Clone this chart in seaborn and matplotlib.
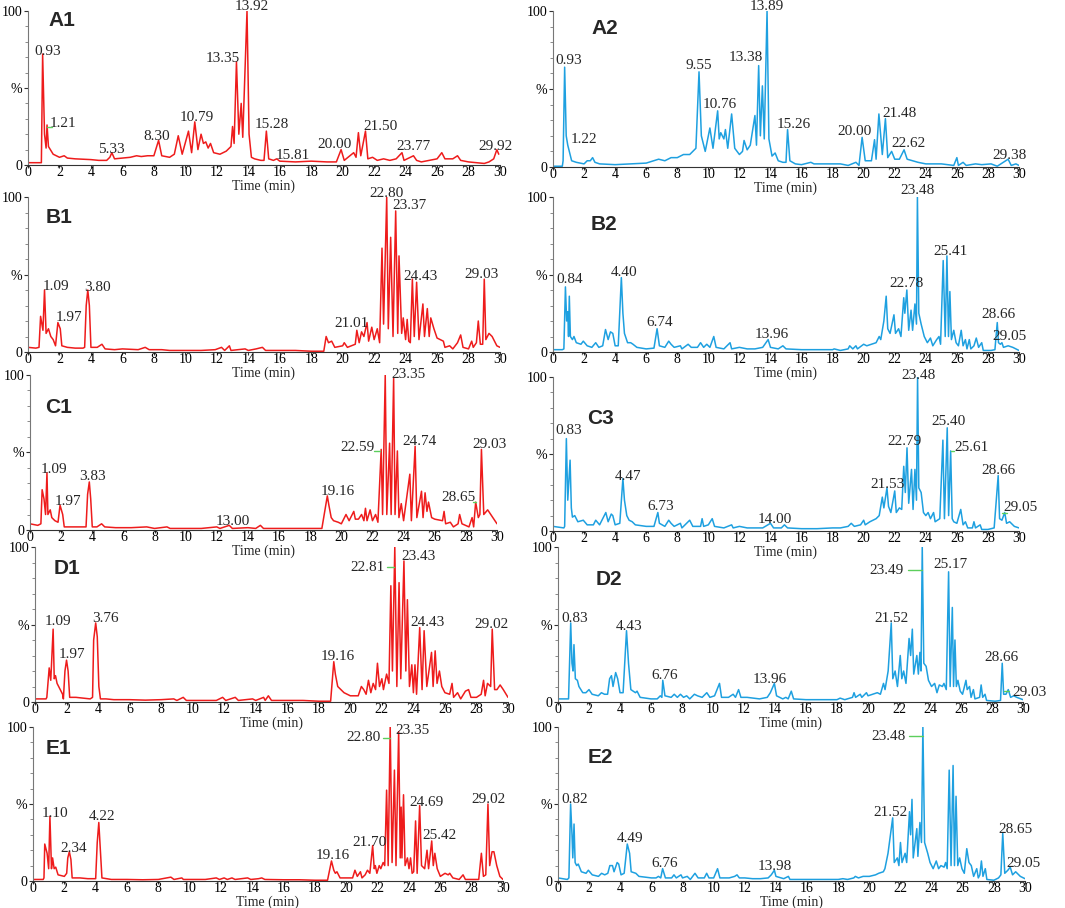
import numpy as np
import pandas as pd
import matplotlib
matplotlib.use("Agg")
import matplotlib.pyplot as plt
import seaborn as sns

# ---- data: retention time (min) and relative intensity (%) ----
a1_t = [0, 0.85, 0.93, 1.05, 1.15, 1.21, 1.3, 1.6, 2.0, 2.3, 2.5, 3.0, 4.0, 4.5, 5.0, 5.2, 5.33, 5.5, 6.0, 6.5,
        6.9, 7.2, 7.6, 8.0, 8.3, 8.5, 9.0, 9.3, 9.55, 9.8, 10.2, 10.4, 10.6, 10.8, 11.0, 11.15, 11.3, 11.45, 11.6, 11.8,
        12.2, 12.6, 12.9, 13.0, 13.1, 13.25, 13.4, 13.55, 13.65, 13.92, 14.05, 14.2, 14.4, 14.8, 15.0, 15.15, 15.3, 15.6,
        15.81, 16.0, 17.0, 18.0, 19.0, 19.6, 19.9, 20.1, 20.7, 20.85, 21.0, 21.15, 21.45, 21.6, 21.9, 22.2, 22.6, 23.0,
        23.4, 23.77, 23.9, 24.5, 24.7, 25.0, 25.5, 26.0, 26.3, 26.5, 27.0, 27.3, 27.5, 28.0, 28.5, 29.0, 29.3, 29.6,
        29.8, 29.92]
a1_i = [1.5, 1.5, 72, 20, 11, 26, 12, 7, 5, 6, 4.5, 4, 3.5, 3, 3, 5, 8, 4, 4.5, 5,
        6, 5.5, 6, 6, 16, 6, 5, 7, 19, 7, 22, 8, 28, 10, 20, 14, 15, 11, 14, 8,
        7, 9, 12, 25, 14, 67, 20, 40, 18, 100, 20, 5, 4, 3, 3, 22, 4, 3,
        4, 2.5, 2, 2.5, 2, 2, 10, 3, 8, 5, 21, 6, 22, 4, 5, 3, 4, 3,
        4, 8, 3, 6, 3, 2, 3, 4, 8, 4, 4, 6, 3, 2, 1.5, 1, 2, 4,
        10, 7]

a2_t = [0, 0.6, 0.65, 0.75, 0.85, 0.95, 1.05, 1.2, 1.5, 2.0, 2.2, 2.4, 2.55, 2.7, 3.0, 4.0, 5.0, 6.0, 6.8, 7.2,
        7.6, 8.0, 8.4, 8.8, 9.0, 9.2, 9.4, 9.55, 9.8, 10.1, 10.3, 10.6, 10.7, 10.8, 11.0, 11.1, 11.25, 11.5, 11.7, 12.0,
        12.2, 12.3, 12.5, 12.7, 13.0, 13.1, 13.24, 13.35, 13.48, 13.6, 13.78, 13.9, 14.1, 14.3, 14.5, 14.8, 15.0, 15.1,
        15.25, 15.6, 16.0, 16.6, 16.8, 17.5, 18.0, 18.5, 19.0, 19.5, 19.7, 19.9, 20.1, 20.5, 20.7, 20.8, 20.98, 21.2,
        21.4, 21.55, 21.8, 22.0, 22.3, 22.6, 22.8, 23.5, 24.0, 25.0, 25.8, 26.0, 26.1, 26.4, 26.6, 27.2, 27.6, 28.2,
        28.6, 29.3, 29.5, 29.8, 30]
a2_i = [0.5, 0.5, 4, 64, 20, 14, 10, 4, 3, 2, 4, 4, 6, 3, 2, 1.5, 2, 2.5, 5, 4,
        6, 6, 8, 8, 10, 12, 61, 20, 10, 25, 12, 36, 18, 22, 18, 24, 12, 34, 12, 8,
        10, 17, 11, 14, 33, 14, 65, 20, 52, 18, 100, 18, 7, 9, 4, 3, 3, 24,
        4, 2, 1.5, 3, 2, 2, 2, 2, 1, 3, 1, 19, 4, 4, 17.5, 5, 34, 8,
        31, 6, 10, 5, 5, 11, 5, 3, 2, 2, 1, 6, 1, 3, 1, 2, 1.5, 2,
        0.5, 5, 1, 2, 1]

b1_t = [0, 0.5, 0.7, 0.8, 0.95, 1.05, 1.15, 1.3, 1.45, 1.6, 1.75, 1.9, 2.05, 2.15, 2.5, 3.0, 3.5, 3.6, 3.7, 3.8,
        3.9, 4.0, 4.4, 4.7, 4.9, 5.5, 6.0, 7.0, 7.45, 7.7, 8.5, 9.0, 10.0, 11.0, 11.9, 12.3, 12.5, 12.8, 12.9, 13.8,
        14.0, 14.5, 14.9, 15.1, 16.0, 17.0, 18.0, 18.8, 18.95, 19.1, 19.3, 19.5, 20.0, 20.1, 20.3, 20.8, 20.9, 21.05,
        21.2, 21.35, 21.55, 21.65, 21.85, 22.0, 22.2, 22.35, 22.5, 22.6, 22.8, 22.9, 23.05, 23.2, 23.37, 23.5, 23.58,
        23.75, 23.85, 24.0, 24.1, 24.2, 24.3, 24.43, 24.55, 24.7, 24.85, 25.1, 25.2, 25.38, 25.5, 25.6, 25.8, 26.0,
        26.4, 26.5, 26.8, 27.0, 27.3, 27.5, 27.65, 28.0, 28.2, 28.3, 28.5, 28.62, 28.75, 28.9, 29.0, 29.1, 29.3, 29.5,
        29.8, 30]
b1_i = [3, 2.5, 3, 23, 14, 40, 12, 15, 10, 8, 4, 19, 15, 4, 3, 2.5, 2.5, 3, 30, 40,
        30, 3, 3, 5, 2, 1.5, 2, 1.5, 3, 1.5, 1.5, 1, 1, 1, 1.5, 3, 1, 4, 1, 2,
        1, 2, 3, 1, 1, 1, 0.5, 0.5, 10, 6, 7, 3, 4, 6, 3, 5, 14, 6,
        13, 10, 19, 7, 16, 8, 15, 6, 67, 18, 100, 15, 74, 10, 91, 12, 62,
        12, 22, 8, 21, 7, 6, 47, 10, 45, 8, 31, 10, 28, 10, 22, 15, 9,
        7, 3, 4, 2, 6, 11, 3, 2, 7, 3, 6, 20, 5, 5, 47, 8, 12, 10,
        4, 3]

b2_t = [0, 0.6, 0.7, 0.75, 0.8, 0.88, 0.95, 1.0, 1.05, 1.12, 1.25, 1.35, 1.5, 1.8, 1.95, 2.2, 2.5, 2.75, 2.95, 3.2,
        3.38, 3.55, 3.7, 3.85, 4.0, 4.2, 4.4, 4.5, 4.6, 4.8, 5.0, 5.15, 5.4, 6.0, 6.5, 6.7, 6.85, 7.2, 7.45, 7.6,
        7.8, 8.2, 8.3, 8.7, 8.9, 9.3, 9.5, 9.7, 9.9, 10.1, 10.35, 10.5, 11.0, 11.4, 11.5, 12.0, 12.5, 13.0, 13.5, 13.85,
        14.0, 14.5, 14.8, 15.0, 16.0, 17.0, 18.0, 18.1, 18.5, 19.0, 19.1, 19.3, 19.5, 19.6, 20.0, 20.2, 20.5, 20.8,
        21.0, 21.1, 21.3, 21.45, 21.55, 21.7, 21.95, 22.05, 22.25, 22.4, 22.58, 22.65, 22.78, 22.9, 23.05, 23.15, 23.3,
        23.4, 23.46, 23.55, 23.7, 23.9, 24.1, 24.3, 24.45, 24.7, 24.85, 24.95, 25.12, 25.25, 25.36, 25.46, 25.55, 25.65,
        25.8, 25.95, 26.1, 26.28, 26.4, 26.55, 26.65, 26.8, 26.9, 27.1, 27.25, 27.4, 27.6, 27.7, 28.2, 28.45, 28.6,
        28.68, 28.8, 28.9, 29.0, 29.3, 29.6, 30]
b2_i = [1.5, 1.5, 2, 22, 42, 20, 26, 10, 36, 10, 8, 10, 6, 5, 7, 4, 3, 6, 3, 4,
        14.5, 8, 13, 12, 4, 4, 48, 25, 12, 6, 6, 5, 3, 2, 2.5, 15, 4, 3, 7, 5,
        3, 4, 2, 5, 3, 3, 6, 3, 5, 3, 10, 3, 2, 6, 2, 3, 2, 2, 3, 8,
        3, 2, 4, 2, 1.5, 1.5, 1.5, 2, 1, 2, 4, 2, 4, 2, 5, 4, 5, 6,
        10, 8, 20, 36, 15, 12, 24, 12, 15, 10, 35, 25, 40, 14, 27, 14, 31,
        18, 100, 25, 18, 10, 6, 9, 4, 8, 10, 5, 59, 10, 62, 10, 39, 8,
        14, 6, 4, 14, 4, 8, 2, 8, 2, 4, 9, 3, 6, 1, 1, 1.5, 19,
        6, 5, 6, 3, 4, 3, 1]

c1_t = [0, 0.5, 0.7, 0.78, 0.9, 1.0, 1.09, 1.15, 1.3, 1.4, 1.6, 1.8, 1.93, 2.1, 2.2, 3.0, 3.6, 3.7, 3.81, 3.9,
        4.0, 4.3, 4.6, 4.8, 5.5, 6.5, 7.5, 8.0, 8.8, 9.0, 10.0, 11.0, 12.0, 12.2, 12.8, 13.0, 14.0, 14.5, 14.8, 15.0,
        16.0, 17.0, 18.0, 18.75, 19.1, 19.2, 19.35, 19.5, 19.8, 20.0, 20.3, 20.5, 20.8, 20.9, 21.1, 21.3, 21.45, 21.55,
        21.65, 21.85, 22.0, 22.2, 22.35, 22.56, 22.65, 22.82, 22.92, 23.1, 23.2, 23.36, 23.45, 23.6, 23.7, 23.85, 24.0,
        24.4, 24.5, 24.74, 24.85, 25.15, 25.25, 25.38, 25.5, 25.6, 25.8, 26.0, 26.5, 26.6, 26.7, 27.0, 27.2, 27.5,
        27.6, 27.75, 28.2, 28.4, 28.5, 28.63, 28.8, 28.9, 29.0, 29.15, 29.4, 29.6, 30]
c1_i = [4, 3, 4, 26, 20, 10, 37, 10, 13, 8, 6, 5, 16, 10, 2, 2, 2, 23, 31, 20,
        2, 2, 4, 2, 1.5, 1.5, 2, 1, 2, 1, 1, 1, 2, 1, 3, 1, 1.5, 1, 3, 1,
        1, 1, 1, 1, 22, 16, 8, 6, 5, 4, 10, 6, 12, 7, 7, 10, 6, 14,
        6, 13, 6, 10, 5, 52, 10, 100, 10, 56, 10, 98, 10, 51, 8, 17, 6,
        36, 6, 54, 8, 25, 8, 24, 12, 18, 8, 7, 6, 12, 4, 5, 2, 4,
        10, 4, 2, 8, 2, 18, 8, 10, 52, 10, 13, 10, 4]

c3_t = [0, 0.7, 0.75, 0.86, 0.95, 1.1, 1.18, 1.25, 1.4, 1.6, 1.95, 2.2, 2.6, 2.75, 3.0, 3.3, 3.4, 3.55, 3.75, 3.85,
        4.0, 4.3, 4.5, 4.6, 4.75, 4.9, 5.1, 5.3, 6.0, 6.5, 6.75, 6.85, 7.2, 7.45, 7.6, 7.8, 8.2, 8.3, 8.8, 9.0,
        9.5, 9.6, 9.7, 10.0, 10.25, 10.4, 11.0, 11.5, 11.6, 12.0, 12.5, 13.0, 13.5, 14.0, 14.2, 14.7, 14.9, 15.1,
        16.0, 17.0, 18.0, 18.5, 19.0, 19.2, 19.4, 19.8, 20.0, 20.1, 20.4, 20.8, 21.0, 21.2, 21.3, 21.5, 21.6, 21.75,
        22.0, 22.1, 22.3, 22.45, 22.58, 22.68, 22.79, 22.9, 23.08, 23.18, 23.3, 23.4, 23.47, 23.55, 23.7, 23.85, 24.0,
        24.15, 24.3, 24.5, 24.6, 24.9, 25.1, 25.2, 25.38, 25.47, 25.6, 25.7, 25.8, 26.0, 26.25, 26.4, 26.55, 26.7,
        27.0, 27.1, 27.2, 27.5, 27.6, 28.0, 28.4, 28.66, 28.75, 28.9, 29.08, 29.2, 29.4, 29.7, 30]
c3_i = [3, 2, 3, 60, 20, 46, 15, 9, 10, 6, 7, 4, 4, 7, 4, 10, 12, 6, 11, 10,
        4, 5, 34, 20, 10, 7, 6, 4, 3, 3, 12, 5, 3, 7, 5, 3, 5, 2, 7, 3,
        3, 8, 3, 4, 8, 3, 2, 4, 2, 3, 2, 2, 2, 5, 2, 2, 4, 2,
        1.5, 1.5, 2, 2, 3, 5, 3, 4, 7, 4, 6, 8, 10, 22, 15, 28, 16, 12,
        26, 12, 15, 14, 42, 25, 54, 18, 40, 14, 40, 20, 100, 28, 25, 12, 10,
        12, 8, 12, 6, 8, 59, 8, 67, 10, 52, 8, 6, 5, 14, 4, 6, 2,
        2, 6, 2, 4, 1, 1, 2, 36, 8, 7, 12, 5, 6, 3, 2]

d1_t = [0, 0.7, 0.75, 0.9, 1.0, 1.15, 1.22, 1.3, 1.4, 1.6, 1.75, 1.8, 1.9, 2.0, 2.1, 2.2, 2.6, 3.5, 3.65, 3.72,
        3.85, 3.95, 4.05, 4.15, 4.5, 5.0, 6.0, 7.0, 8.0, 8.8, 9.0, 9.4, 9.6, 10.5, 11.5, 11.9, 12.1, 12.7, 12.9, 13.8,
        14.0, 14.5, 14.6, 14.8, 15.0, 16.0, 17.0, 18.0, 18.75, 18.95, 19.05, 19.2, 19.4, 19.6, 19.8, 20.0, 20.5, 20.7,
        20.85, 21.0, 21.15, 21.3, 21.45, 21.6, 21.72, 21.85, 22.0, 22.1, 22.3, 22.45, 22.57, 22.67, 22.82, 22.95, 23.09,
        23.2, 23.4, 23.52, 23.62, 23.75, 23.9, 24.0, 24.1, 24.2, 24.4, 24.55, 24.68, 24.85, 25.15, 25.25, 25.38, 25.5,
        25.65, 25.8, 26.0, 26.3, 26.45, 26.55, 26.8, 27.0, 27.3, 27.5, 27.65, 28.0, 28.3, 28.45, 28.55, 28.7, 28.9,
        29.0, 29.15, 29.3, 29.5, 29.7, 30]
d1_i = [2, 2, 3, 22, 14, 47, 15, 17, 12, 8, 5, 2, 20, 27, 20, 3, 3, 2, 3, 40,
        51, 42, 10, 2, 2, 1.5, 1.5, 1.2, 1.5, 2, 1, 3, 1, 1, 1, 3, 1, 3, 1, 2,
        1, 3, 1, 4, 1, 1, 1, 0.5, 0.5, 26, 18, 10, 8, 6, 5, 4, 4, 10,
        8, 5, 14, 6, 12, 8, 25, 10, 15, 8, 18, 12, 75, 20, 100, 10, 77,
        15, 91, 20, 66, 10, 24, 6, 24, 5, 48, 8, 46, 10, 32, 10, 33, 12,
        20, 10, 6, 5, 12, 3, 6, 2, 7, 8, 3, 3, 5, 14, 4, 12, 10,
        47, 8, 8, 11, 8, 3]

d2_t = [0, 0.6, 0.68, 0.75, 0.82, 0.9, 0.97, 1.03, 1.12, 1.25, 1.35, 1.6, 1.8, 2.0, 2.2, 2.6, 2.8, 3.0, 3.2, 3.33,
        3.45, 3.55, 3.72, 3.85, 4.0, 4.2, 4.42, 4.55, 4.7, 5.0, 5.1, 5.3, 6.0, 6.4, 6.6, 6.7, 6.76, 6.9, 7.3, 7.5,
        7.7, 7.9, 8.1, 8.3, 8.5, 8.8, 9.0, 9.3, 9.6, 9.8, 10.1, 10.42, 10.55, 11.0, 11.3, 11.45, 11.65, 11.8, 12.2, 13.0,
        13.5, 13.7, 13.96, 14.1, 14.5, 14.7, 14.85, 15.05, 15.2, 16.0, 17.0, 18.0, 18.2, 18.5, 19.0, 19.1, 19.2, 19.5,
        19.6, 19.9, 20.0, 20.3, 20.6, 20.8, 21.0, 21.1, 21.3, 21.5, 21.6, 21.75, 21.9, 22.08, 22.18, 22.3, 22.45, 22.65,
        22.75, 22.86, 22.95, 23.15, 23.25, 23.35, 23.42, 23.5, 23.6, 23.75, 23.9, 24.1, 24.3, 24.45, 24.6, 24.8, 24.9,
        25.05, 25.2, 25.3, 25.44, 25.52, 25.61, 25.7, 25.8, 25.95, 26.1, 26.32, 26.4, 26.55, 26.65, 26.8, 26.9, 27.2,
        27.3, 27.4, 27.55, 27.65, 28.2, 28.55, 28.66, 28.75, 28.9, 29.05, 29.2, 29.4, 29.6, 30]
d2_i = [2, 2, 2, 27, 51, 25, 20, 37, 15, 14, 10, 6, 6, 8, 5, 4, 6, 5, 5, 15,
        17, 10, 19, 15, 6, 6, 46, 25, 8, 6, 7, 3, 2, 2, 4, 3, 14, 4, 3, 5,
        3, 5, 3, 4, 2, 5, 4, 3, 6, 3, 4, 12, 3, 3, 5, 3, 8, 3, 3, 2,
        3, 6, 12, 4, 2, 3, 2, 7, 2, 1.5, 1.5, 1.5, 2.5, 1.5, 3, 6, 3, 5,
        3, 6, 4, 5, 6, 5, 12, 8, 20, 51, 15, 20, 10, 30, 15, 20, 12, 41,
        30, 47, 18, 30, 18, 32, 20, 100, 25, 23, 14, 10, 12, 6, 11, 10, 12,
        8, 84, 10, 61, 10, 40, 10, 14, 7, 5, 14, 8, 10, 3, 8, 2, 3,
        11, 3, 5, 1, 0.5, 1, 25, 5, 5, 8, 3, 4, 3, 1.5]

e1_t = [0, 0.65, 0.7, 0.75, 0.9, 1.0, 1.08, 1.18, 1.25, 1.35, 1.45, 1.6, 2.0, 2.15, 2.22, 2.32, 2.42, 2.5, 3.0, 3.5,
        4.0, 4.1, 4.2, 4.3, 4.4, 5.0, 6.0, 7.0, 8.0, 8.8, 9.0, 9.5, 9.6, 11.0, 11.7, 11.9, 12.2, 12.4, 12.7, 12.9,
        13.7, 13.9, 14.4, 14.6, 14.8, 16.0, 17.0, 18.0, 18.8, 19.05, 19.2, 19.3, 19.4, 19.6, 20.0, 20.4, 20.55, 20.7,
        20.9, 21.0, 21.2, 21.35, 21.5, 21.68, 21.78, 21.85, 21.95, 22.1, 22.2, 22.35, 22.45, 22.57, 22.67, 22.8, 22.92,
        23.07, 23.17, 23.34, 23.44, 23.5, 23.55, 23.65, 23.75, 23.9, 24.0, 24.1, 24.2, 24.3, 24.42, 24.52, 24.68, 24.8,
        25.0, 25.15, 25.25, 25.45, 25.55, 25.65, 25.8, 26.0, 26.3, 26.5, 26.6, 26.8, 27.2, 27.45, 27.6, 28.0, 28.45,
        28.62, 28.75, 28.9, 29.04, 29.15, 29.3, 29.42, 29.6, 29.8, 30]
e1_i = [1, 1, 2, 24, 18, 8, 42, 8, 15, 8, 9, 4, 3, 5, 15, 19, 14, 2, 2, 1.5,
        1.5, 25, 38, 20, 2, 1, 1, 0.8, 1, 2.5, 1, 2, 1, 1, 2, 1, 2, 1, 2, 1,
        2, 1, 1.5, 2, 1, 0.8, 0.8, 0.5, 0.5, 13, 7, 5, 6, 2, 2, 2, 7, 3,
        6, 2, 4, 7, 5, 23, 8, 10, 5, 10, 8, 12, 10, 59, 10, 100, 12,
        72, 10, 97, 15, 48, 15, 56, 10, 15, 8, 15, 5, 6, 39, 5, 49, 10,
        8, 20, 8, 26, 10, 18, 8, 3, 5, 4, 5, 2, 1, 4, 1, 1, 1,
        18, 3, 4, 50, 10, 19, 19, 10, 3, 1]

e2_t = [0, 0.6, 0.7, 0.75, 0.81, 0.9, 0.95, 1.03, 1.1, 1.2, 1.3, 1.5, 1.8, 1.95, 2.2, 2.6, 2.8, 3.0, 3.2, 3.33,
        3.5, 3.6, 3.8, 3.9, 4.05, 4.25, 4.45, 4.6, 4.7, 5.0, 5.2, 6.0, 6.3, 6.45, 6.6, 6.72, 6.9, 7.3, 7.45, 7.6,
        7.9, 8.0, 8.3, 8.5, 8.8, 9.0, 9.4, 9.55, 9.7, 10.0, 10.25, 10.4, 11.0, 11.35, 11.5, 11.65, 12.0, 12.5, 13.0, 13.5,
        13.7, 13.9, 14.0, 14.5, 14.8, 14.9, 15.5, 16.0, 17.0, 18.0, 18.3, 18.6, 19.0, 19.1, 19.3, 19.6, 20.0, 20.4,
        20.6, 20.9, 21.0, 21.2, 21.5, 21.6, 21.8, 21.9, 22.0, 22.1, 22.3, 22.4, 22.58, 22.65, 22.74, 22.82, 23.05, 23.12,
        23.25, 23.35, 23.44, 23.55, 23.75, 23.9, 24.1, 24.3, 24.45, 24.6, 24.8, 24.9, 25.0, 25.13, 25.25, 25.38, 25.47,
        25.57, 25.68, 25.8, 25.95, 26.1, 26.26, 26.4, 26.55, 26.7, 26.9, 27.0, 27.1, 27.2, 27.3, 27.45, 27.55, 28.0,
        28.3, 28.45, 28.57, 28.7, 28.9, 29.05, 29.2, 29.4, 29.7, 30]
e2_i = [2, 1, 2, 25, 50, 30, 15, 37, 12, 10, 11, 6, 5, 7, 4, 3, 5, 4, 5, 10,
        10, 6, 12, 11, 4, 5, 24, 18, 6, 5, 3, 2, 2, 3, 2, 8, 2, 2, 4, 2,
        4, 2, 3, 1, 5, 2, 2, 5, 2, 2, 8, 2, 2, 3, 4, 2, 2, 1.5, 1.5, 2,
        4, 7, 3, 1.5, 3, 1, 1, 1, 1, 1, 1.5, 1, 2, 3, 2, 3, 3, 4,
        5, 6, 8, 18, 41, 12, 15, 10, 25, 12, 18, 12, 45, 30, 53, 15, 34, 16,
        38, 25, 100, 25, 18, 12, 8, 13, 8, 10, 9, 12, 8, 72, 10, 75, 10,
        55, 10, 15, 8, 5, 21, 12, 10, 3, 8, 2, 4, 13, 3, 8, 1, 0.5,
        2, 4, 31, 5, 7, 9, 4, 6, 3, 1.5]

# peak labels (retention time text, label x, label y)
a1_labels = [("0.93", 1.25, 74), ("1.21", 2.2, 27), ("5.33", 5.3, 10), ("8.30", 8.15, 18.5),
             ("10.79", 10.7, 31), ("13.35", 12.4, 69), ("13.92", 14.2, 103), ("15.28", 15.5, 26),
             ("15.81", 16.8, 6), ("20.00", 19.5, 13.5), ("21.50", 22.4, 25), ("23.77", 24.5, 12),
             ("29.92", 29.7, 12)]
a2_labels = [("0.93", 1.0, 68.5), ("1.22", 2.0, 17.5), ("9.55", 9.4, 65), ("10.76", 10.75, 40),
             ("13.38", 12.4, 70), ("13.89", 13.75, 103), ("15.26", 15.5, 27), ("20.00", 19.4, 23),
             ("21.48", 22.3, 34), ("22.62", 22.9, 15), ("29.38", 29.4, 7.5)]
b1_labels = [("1.09", 1.75, 42), ("1.97", 2.6, 22.5), ("3.80", 4.4, 41.5), ("21.01", 20.55, 18.3),
             ("22.80", 22.8, 102), ("23.37", 24.25, 94.5), ("24.43", 24.95, 49), ("29.03", 28.8, 50)]
b2_labels = [("0.84", 1.07, 46.5), ("4.40", 4.55, 51), ("6.74", 6.85, 19), ("13.96", 14.1, 11),
             ("22.78", 22.76, 44), ("23.48", 23.46, 104), ("25.41", 25.6, 65), ("28.66", 28.65, 24),
             ("29.05", 29.4, 9.7)]
c1_labels = [("1.09", 1.56, 39), ("1.97", 2.46, 18.3), ("3.83", 4.03, 34.4), ("13.00", 13.0, 5.8),
             ("19.16", 19.8, 25), ("22.59", 21.06, 53), ("23.35", 24.3, 100), ("24.74", 25.0, 57),
             ("28.65", 27.5, 21), ("29.03", 29.5, 55)]
c3_labels = [("0.83", 1.03, 65), ("4.47", 4.82, 35.7), ("6.73", 6.92, 16), ("14.00", 14.25, 7.4),
             ("21.53", 21.53, 30), ("22.79", 22.6, 57.8), ("23.48", 23.5, 101), ("25.40", 25.46, 71.4),
             ("25.61", 26.96, 54.5), ("28.66", 28.7, 39.4), ("29.05", 30.1, 15)]
d1_labels = [("1.09", 1.48, 52), ("1.97", 2.32, 30.5), ("3.76", 4.5, 53.8), ("19.16", 19.23, 29.5),
             ("22.81", 21.1, 87), ("23.43", 24.3, 94), ("24.43", 24.9, 51), ("29.02", 28.95, 50.3)]
d2_labels = [("0.83", 1.07, 53.8), ("4.43", 4.58, 48.4), ("6.76", 6.88, 17), ("13.96", 13.66, 14.4),
             ("21.52", 21.5, 54), ("23.49", 21.2, 85), ("25.17", 25.3, 89), ("28.66", 28.6, 28.4),
             ("29.03", 30.4, 6)]
e1_labels = [("1.10", 1.38, 44), ("2.34", 2.6, 21), ("4.22", 4.43, 42), ("19.16", 19.15, 16.8),
             ("21.70", 21.45, 24.8), ("22.80", 21.1, 93), ("23.35", 24.25, 98), ("24.69", 25.1, 50.8),
             ("25.42", 25.96, 29.8), ("29.02", 29.1, 53)]
e2_labels = [("0.82", 1.07, 53), ("4.49", 4.6, 27.6), ("6.76", 6.86, 11.4), ("13.98", 13.93, 9.1),
             ("21.52", 21.36, 44.3), ("23.48", 21.2, 94), ("28.65", 29.4, 33.5), ("29.05", 29.9, 11.4)]

# short green leader lines (x0, x1, y)
a1_leaders = [(1.2, 1.5, 25)]
c1_leaders = [(22.1, 22.5, 51), (28.45, 28.65, 18)]
c3_leaders = [(25.6, 25.8, 52), (28.9, 29.25, 11.5)]
d1_leaders = [(22.35, 22.78, 87)]
d2_leaders = [(22.58, 23.49, 85), (28.8, 29.1, 7)]
e1_leaders = [(22.34, 22.77, 93)]
e2_leaders = [(22.56, 23.45, 94)]

RED = "#ee1c1c"
BLUE = "#1ea0e0"
SERIF = ["Liberation Serif", "DejaVu Serif"]

panels = [
    # tag, t, i, colour, labels, leaders, axes box (px: left, right, top, bottom), tag position
    ("A1", a1_t, a1_i, RED, a1_labels, a1_leaders, (28, 500, 11, 165), (1.3, 94)),
    ("A2", a2_t, a2_i, BLUE, a2_labels, [], (553, 1019, 11, 167), (2.5, 89)),
    ("B1", b1_t, b1_i, RED, b1_labels, [], (28, 500, 197, 352), (1.1, 87)),
    ("B2", b2_t, b2_i, BLUE, b2_labels, [], (553, 1019, 197, 352), (2.4, 82)),
    ("C1", c1_t, c1_i, RED, c1_labels, c1_leaders, (30, 497, 375, 530), (1.0, 79)),
    ("C3", c3_t, c3_i, BLUE, c3_labels, c3_leaders, (553, 1019, 377, 531), (2.2, 73)),
    ("D1", d1_t, d1_i, RED, d1_labels, d1_leaders, (35, 508, 547, 702), (1.15, 86)),
    ("D2", d2_t, d2_i, BLUE, d2_labels, d2_leaders, (558, 1023, 547, 702), (2.4, 79)),
    ("E1", e1_t, e1_i, RED, e1_labels, e1_leaders, (33, 503, 727, 881), (0.8, 86)),
    ("E2", e2_t, e2_i, BLUE, e2_labels, e2_leaders, (558, 1025, 727, 881), (1.9, 80)),
]

sns.set_style("ticks")
plt.rcParams['font.family'] = SERIF

W, H = 1065, 908
fig = plt.figure(figsize=(W / 100, H / 100), dpi=100)

for tag, t, inten, color, labels, leaders, box, tag_xy in panels:
    l, r, top, bot = box
    ax = fig.add_axes([l / W, 1 - bot / H, (r - l) / W, (bot - top) / H])
    df = pd.DataFrame({"t": t, "i": inten})
    sns.lineplot(data=df, x="t", y="i", ax=ax, color=color, linewidth=1.1,
                 estimator=None, sort=False, errorbar=None)
    ax.set_xlim(0, 30)
    ax.set_ylim(0, 100)
    ax.set_xticks(np.arange(0, 31, 2))
    ax.set_yticks([0, 50, 100])
    ax.set_yticklabels(["0", "%", "100"])
    ax.set_yticks(np.arange(0, 101, 10), minor=True)
    ax.tick_params(axis="both", labelsize=10, width=0.8, colors="#333333", labelcolor="black")
    ax.tick_params(axis="x", length=2, pad=-1)
    ax.tick_params(axis="y", length=3, pad=1)
    ax.tick_params(axis="y", which="minor", length=2, width=0.6, colors="#777777")
    ax.set_xlabel("Time (min)", fontsize=10, labelpad=0)
    ax.set_ylabel("")
    for s in ["top", "right"]:
        ax.spines[s].set_visible(False)
    ax.spines["left"].set_color("#777777")
    ax.spines["bottom"].set_color("#333333")
    ax.patch.set_alpha(0)

    for txt, x, y in labels:
        ax.text(x, y, txt, fontsize=11, ha="center", va="center", clip_on=False)
    for x0, x1, y in leaders:
        ax.plot([x0, x1], [y, y], color="#5ccf5c", linewidth=1.0, clip_on=False)
    ax.text(tag_xy[0], tag_xy[1], tag, fontsize=15, fontweight="bold",
            family=["Liberation Sans", "DejaVu Sans"], ha="left", va="center")

fig.savefig("out.png", dpi=100)
